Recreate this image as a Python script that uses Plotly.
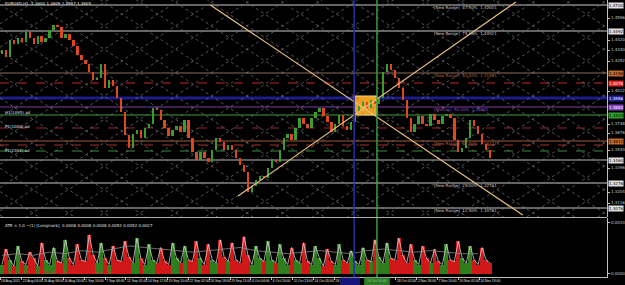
import plotly.graph_objects as go

W, H = 625, 285

# ---------------- data ----------------
closes = [
    1.4340, 1.4284, 1.4420, 1.4388, 1.4436, 1.4404, 1.4484, 1.4436, 1.4388, 1.4452,
    1.4404, 1.4436, 1.4500, 1.4540, 1.4524, 1.4436, 1.4468, 1.4420, 1.4372, 1.4300,
    1.4260, 1.4228, 1.4164, 1.4100, 1.4116, 1.4228, 1.4036, 1.4100, 1.4052, 1.3956,
    1.3844, 1.3660, 1.3556, 1.3668, 1.3700, 1.3636, 1.3716, 1.3748, 1.3876, 1.3860,
    1.3780, 1.3716, 1.3652, 1.3700, 1.3732, 1.3684, 1.3780, 1.3636, 1.3524, 1.3460,
    1.3524, 1.3476, 1.3444, 1.3540, 1.3636, 1.3604, 1.3540, 1.3580, 1.3540, 1.3476,
    1.3420, 1.3364, 1.3204, 1.3252, 1.3300, 1.3332, 1.3316, 1.3396, 1.3460, 1.3444,
    1.3540, 1.3636, 1.3668, 1.3620, 1.3716, 1.3796, 1.3748, 1.3716, 1.3796, 1.3844,
    1.3876, 1.3812, 1.3764, 1.3684, 1.3748, 1.3820, 1.3732, 1.3700, 1.3764, 1.3844,
    1.3892, 1.3924, 1.3876, 1.3940, 1.3908, 1.3956, 1.4164, 1.4228, 1.4180, 1.4116,
    1.4036, 1.3940, 1.3796, 1.3684, 1.3748, 1.3812, 1.3748, 1.3732, 1.3828, 1.3780,
    1.3748, 1.3812, 1.3828, 1.3796, 1.3620, 1.3524, 1.3556, 1.3636, 1.3780, 1.3732,
    1.3668, 1.3588, 1.3540, 1.3476,
]
first_open = 1.4310

atr_pips = [
    6, 16, 9, 5, 18, 8, 6, 14, 10, 5, 20, 9,
    6, 17, 8, 7, 22, 10, 6, 19, 9, 8, 25, 12,
    7, 20, 10, 6, 18, 9, 8, 21, 11, 7, 23, 10,
    6, 19, 9, 7, 17, 8, 6, 20, 10, 7, 18, 9,
    8, 21, 10, 6, 19, 9, 7, 22, 11, 8, 20, 9,
    7, 24, 12, 6, 18, 10, 8, 21, 9, 7, 19, 10,
    6, 17, 9, 7, 20, 8, 6, 18, 10, 5, 16, 8,
    6, 19, 9, 7, 15, 8, 6, 17, 9, 8, 22, 11,
    7, 20, 10, 9, 23, 12, 7, 19, 9, 6, 18, 10,
    7, 16, 8, 6, 19, 9, 8, 21, 10, 7, 18, 9,
    6, 17, 9, 7,
]
atr_slow_pips = [12, 13, 12, 14, 13, 15, 14, 16, 18, 17, 16, 15, 14, 15, 16, 17,
                 15, 14, 13, 14, 15, 14, 13, 15, 16, 15, 14, 15, 14, 13, 13]
atr_slow_bars = [0, 4, 8, 12, 16, 20, 24, 28, 32, 36, 40, 44, 48, 52, 56, 60,
                 64, 68, 72, 76, 80, 84, 88, 92, 96, 100, 104, 108, 112, 116, 120]

# horizontal levels
levels = [1.4700, 1.4492, 1.4156, 1.4076, 1.3956, 1.3884, 1.3820, 1.3716,
          1.3612, 1.3580, 1.3532, 1.3460, 1.3276, 1.3076]
level_colors = ['#c8c8c8', '#c8c8c8', '#8a6a5a', '#c02828', '#1c1c8c', '#7a3aa8', '#3c9c3c',
                '#902828', '#a0583a', '#a03030', '#3a8a3a', '#b8b8b8', '#c8c8c8', '#c8c8c8']
level_dash = ['solid', 'solid', 'solid', 'dash', 'solid', 'solid', 'solid',
              'dash', 'solid', 'dash', 'dash', 'solid', 'solid', 'solid']
level_width = [1, 1, 1, 1, 3, 1, 1, 1, 1, 1, 1, 1, 1, 1]

# right-axis highlighted labels
hl_prices = [1.4700, 1.4492, 1.4156, 1.4076, 1.3956, 1.3884, 1.3820, 1.3612, 1.3460, 1.3276, 1.3076]
hl_bg = ['#e0e0e0', '#e0e0e0', '#c06830', '#e02020', '#2020a0', '#8040c0', '#30a030',
         '#c06830', '#e0e0e0', '#e0e0e0', '#e0e0e0']
hl_fg = ['#000000', '#000000', '#000000', '#ffffff', '#ffffff', '#ffffff', '#000000',
         '#000000', '#000000', '#000000', '#000000']

price_ticks = [1.3116, 1.3204, 1.3396, 1.3540, 1.3676, 1.3748, 1.4012,
               1.4252, 1.4340, 1.4420, 1.4596]

# murrey / range texts
range_texts = ['[New Range]  87.50%  1.47001', '[New Range]  75.00%  1.44921',
               '[New Range]  62.50%  1.41561', '[Midline]  50.00%  1.38841',
               '[New Range]  37.50%  1.36121', '[New Range]  25.00%  1.32761',
               '[New Range]  12.50%  1.30761']
range_prices = [1.4700, 1.4492, 1.4156, 1.3884, 1.3612, 1.3276, 1.3076]
range_colors = ['#c0c0c0', '#c0c0c0', '#a06040', '#8a48c8', '#a06040', '#c0c0c0', '#c0c0c0']

left_texts = ['H1(1091) ad', 'P1(1000) ad', 'P1(2301) ad']
left_prices = [1.3844, 1.3732, 1.3540]

# gann fan / box / vertical lines
fan_up_bars, fan_up_prices = [59.5, 129.5], [1.3172, 1.4724]
fan_dn_bars, fan_dn_prices = [52.5, 131.25], [1.4700, 1.3020]
box_bars, box_prices = [88.75, 94.5], [1.3820, 1.3972]
vline_bars = [88.75, 94.5]
vline_colors = ['#2a2aa8', '#3c9c3c']

# date axis
date_tick_bars = [-0.5, 5, 10.25, 15.5, 20.75, 26, 31.25, 36.5, 41.75, 47, 52.25, 57.5,
                  62.75, 68, 73.25, 78.5, 83.75, 99.25, 104.5, 109.75, 115, 120.25]
date_tick_text = ['18 Aug 2011', '22 Aug 04:00', '26 Aug 08:00', '30 Aug 20:00', '2 Sep 16:00',
                  '7 Sep 08:00', '12 Sep 01:00', '14 Sep 17:00', '19 Sep 10:00', '22 Sep 02:00',
                  '26 Sep 18:00', '29 Sep 11:00', '4 Oct 04:00', '6 Oct 20:00', '11 Oct 13:00',
                  '14 Oct 05:00', '18 Oct', '28 Oct 02:00', '2 Nov 18:00', '7 Nov 10:00',
                  '10 Nov 02:00', '14 Nov 19:00']

# ---------------- layout geometry ----------------
X_RANGE = [-0.5, 152.5]
P_RANGE = [1.3004, 1.4740]
A_RANGE = [-0.0002, 0.0036]
XD = [0, 612 / W]
YD_P = [68 / H, 1.0]
YD_A = [8 / H, 67 / H]
grid_step = 9.0
grid_slope = 0.00208

bars = list(range(len(closes)))
opens = [first_open] + closes[:-1]
highs = [max(o, c) for o, c in zip(opens, closes)]
lows = [min(o, c) for o, c in zip(opens, closes)]
UP, DN = '#3a9c2c', '#e0461e'
candle_cols = [UP if c >= o else DN for o, c in zip(opens, closes)]

fig = go.Figure()

# diagonal gann grid (dotted)
gx, gy = [], []
for k in range(-30, 31):
    b0 = box_bars[0] + grid_step * k
    for sgn in (1, -1):
        xs = [-3, 156]
        gx += xs + [None]
        gy += [box_prices[1] + sgn * grid_slope * (x - b0) for x in xs] + [None]
fig.add_trace(go.Scatter(x=gx, y=gy, mode='lines', line=dict(color='#7a7a7a', width=0.7, dash='dot'),
                         hoverinfo='skip', xaxis='x', yaxis='y'))

# fan lines
for bx, py in ((fan_up_bars, fan_up_prices), (fan_dn_bars, fan_dn_prices)):
    fig.add_trace(go.Scatter(x=bx, y=py, mode='lines', line=dict(color='#e8c080', width=1.2),
                             hoverinfo='skip', xaxis='x', yaxis='y'))

# candles (thin bodies spanning low..high)
fig.add_trace(go.Bar(x=bars, base=lows, y=[max(h - l, 0.0003) for h, l in zip(highs, lows)],
                     width=0.6, marker=dict(color=candle_cols, line=dict(width=0)),
                     hoverinfo='skip', xaxis='x', yaxis='y'))

# ATR panel
atr = [v / 10000 for v in atr_pips]
bar_cols = ['#2e7e1e' if c >= o else '#d01818' for o, c in zip(opens, closes)]
fig.add_trace(go.Bar(x=bars, y=atr, marker=dict(color=bar_cols, line=dict(width=0)),
                     width=1.0, hoverinfo='skip', xaxis='x2', yaxis='y2'))
fig.add_trace(go.Scatter(x=bars, y=atr, mode='lines', line=dict(color='#e8e8e8', width=0.7),
                         hoverinfo='skip', xaxis='x2', yaxis='y2'))
fig.add_trace(go.Scatter(x=atr_slow_bars, y=[v / 10000 for v in atr_slow_pips], mode='lines',
                         line=dict(color='#8a8a8a', width=0.8), hoverinfo='skip',
                         xaxis='x2', yaxis='y2'))

shapes = []
for lv, col, ds, wd in zip(levels, level_colors, level_dash, level_width):
    shapes.append(dict(type='line', xref='x domain', yref='y', x0=0, x1=1, y0=lv, y1=lv,
                       line=dict(color=col, width=wd, dash=ds), layer='below'))
shapes.append(dict(type='rect', xref='x', yref='y', x0=box_bars[0], x1=box_bars[1],
                   y0=box_prices[0], y1=box_prices[1], fillcolor='#f0a020',
                   line=dict(color='#ffd070', width=1), layer='below'))
for vb, vc in zip(vline_bars, vline_colors):
    shapes.append(dict(type='line', xref='x', yref='paper', x0=vb, x1=vb, y0=YD_A[0], y1=1,
                       line=dict(color=vc, width=1.5), layer='above'))
# panel separator
shapes.append(dict(type='line', xref='paper', yref='paper', x0=0, x1=XD[1], y0=67.5 / H, y1=67.5 / H,
                   line=dict(color='#b0b0b0', width=1)))
# date-axis highlight boxes for vertical lines
shapes.append(dict(type='rect', xref='x2', yref='paper', x0=85.25, x1=90.25, y0=0, y1=YD_A[0] - 0.002,
                   fillcolor='#14147a', line=dict(width=0)))
shapes.append(dict(type='rect', xref='x2', yref='paper', x0=91.25, x1=97.75, y0=0, y1=YD_A[0] - 0.002,
                   fillcolor='#2a7a2a', line=dict(width=0)))

ann = []
F = 'DejaVu Sans'
FN = 'Liberation Sans'
for p, bg, fg in zip(hl_prices, hl_bg, hl_fg):
    ann.append(dict(xref='paper', yref='y', x=613 / W, y=p, xanchor='left', yanchor='middle',
                    text=f'{p:.4f}', showarrow=False, bgcolor=bg, borderpad=0,
                    font=dict(family=F, size=4, color=fg)))
for t, p, c in zip(range_texts, range_prices, range_colors):
    ann.append(dict(xref='x', yref='y', x=108.25, y=p, xanchor='left', yanchor='top', yshift=2,
                    text=t, showarrow=False, font=dict(family=F, size=4, color=c)))
for t, p in zip(left_texts, left_prices):
    ann.append(dict(xref='paper', yref='y', x=3 / W, y=p, xanchor='left', yanchor='middle',
                    text=t, showarrow=False, font=dict(family=F, size=4, color='#e0e0e0')))
ann.append(dict(xref='paper', yref='paper', x=3 / W, y=(H - 3) / H, xanchor='left', yanchor='middle',
                text='EURUSD,H1  1.3600 1.3609 1.3597 1.3605', showarrow=False,
                font=dict(family=F, size=4, color='#e0e0e0')))
ann.append(dict(xref='paper', yref='paper', x=3 / W, y=(H - 225) / H, xanchor='left', yanchor='middle',
                text='ATR \u00b1 1.0 ~(1) [Longmark]  0.0008 0.0008 0.0008 0.0052 0.0052 0.0027',
                showarrow=False, font=dict(family=F, size=4, color='#e0e0e0')))
ann.append(dict(xref='paper', yref='paper', x=3 / W, y=(H - 272) / H, xanchor='left', yanchor='middle',
                text='FXCM ATR v1 \u00a9 2005-2011 ForexCoach Software Corp.', showarrow=False,
                font=dict(family=F, size=4, color='#e02020')))
ann.append(dict(xref='x2', yref='paper', x=91.6, y=4 / H, xanchor='left', yanchor='middle',
                text='24 Oct 10:00', showarrow=False, font=dict(family=FN, size=3.4, color='#8ad08a')))

fig.update_layout(
    width=W, height=H, margin=dict(l=0, r=0, t=0, b=0),
    paper_bgcolor='#000000', plot_bgcolor='#000000', showlegend=False,
    barmode='overlay', bargap=0,
    shapes=shapes, annotations=ann,
    xaxis=dict(domain=XD, range=X_RANGE, anchor='y', showgrid=False, zeroline=False,
               showticklabels=False, fixedrange=True),
    xaxis2=dict(domain=XD, range=X_RANGE, anchor='y2', matches='x', showgrid=False, zeroline=False,
                tickvals=date_tick_bars, ticktext=date_tick_text, ticks='outside', ticklen=2,
                tickangle=0, tickcolor='#c0c0c0', ticklabelposition='outside right',
                tickfont=dict(family=FN, size=3.4, color='#e0e0e0'),
                showline=True, linecolor='#c0c0c0', linewidth=1),
    yaxis=dict(domain=YD_P, range=P_RANGE, anchor='x', side='right', showgrid=False, zeroline=False,
               tickvals=price_ticks, tickformat='.4f', ticks='outside', ticklen=2, tickcolor='#c0c0c0',
               tickfont=dict(family=F, size=4, color='#c8c8c8'),
               showline=True, linecolor='#c0c0c0', linewidth=1),
    yaxis2=dict(domain=YD_A, range=A_RANGE, anchor='x2', side='right', showgrid=False, zeroline=False,
                tickvals=[0, 0.0033], tickformat='.4f', ticks='outside', ticklen=2, tickcolor='#c0c0c0',
                tickfont=dict(family=F, size=4, color='#c8c8c8'),
                showline=True, linecolor='#c0c0c0', linewidth=1),
)

fig.write_html('out.html')
